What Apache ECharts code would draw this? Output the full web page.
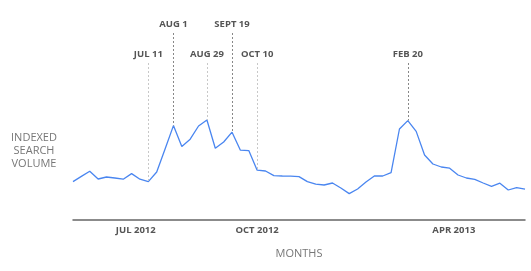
<!DOCTYPE html>
<html><head><meta charset="utf-8">
<script src="https://cdn.jsdelivr.net/npm/echarts@6/dist/echarts.min.js"></script>
<style>html,body{margin:0;padding:0;background:#fff}#c{width:531px;height:271px}</style>
</head><body><div id="c"></div>
<script>
// weekly indexed search volume
const values = [19.2,21.8,24.4,20.5,21.5,21,20.4,23.2,20.4,19.2,24,35.5,47.2,36.7,40.4,47,50,35.9,39,43.9,34.9,34.7,24.9,24.5,22.2,22,21.9,21.7,19.2,17.9,17.5,18.5,16,13.2,15.5,19,22,22,23.7,45.5,49.7,44.3,32.5,28,26.5,25.9,22.5,21,20.3,18.5,16.8,18.4,15,16.2,15.4];
const tickIdx = [7.5, 22, 45.5];
const tickLabels = ['JUL 2012', 'OCT 2012', 'APR 2013'];
const eventNames = ['JUL 11', 'AUG 1', 'AUG 29', 'SEPT 19', 'OCT 10', 'FEB 20'];
const eventIdx = [9, 12, 16, 19, 22, 40];
const eventHigh = [false, true, false, true, false, false];

const TOP_HIGH = 93.5, TOP_LOW = 78.5;
const data = values.map((v, i) => [i, v]);
const ml = eventNames.map((n, k) => {
  const i = eventIdx[k];
  const dark = eventHigh[k] || n === 'FEB 20';
  return [
    {coord: [i, eventHigh[k] ? TOP_HIGH : TOP_LOW], name: n,
     lineStyle: {color: dark ? '#888' : '#c8c8c8'}},
    {coord: [i, values[i]]}
  ];
});

const chart = echarts.init(document.getElementById('c'));
chart.setOption({
  animation: false,
  grid: {left: 73, right: 6, top: 20, bottom: 51},
  xAxis: {
    type: 'value', min: 0, max: values.length - 1, interval: 0.5,
    axisLine: {lineStyle: {color: '#666', width: 1.5}},
    axisTick: {show: false}, splitLine: {show: false},
    axisLabel: {
      margin: 5, color: '#555', fontFamily: 'Open Sans', fontWeight: 'bold', fontSize: 9.5,
      formatter: v => { const k = tickIdx.indexOf(v); return k >= 0 ? tickLabels[k] : ''; }
    },
    name: 'MONTHS', nameLocation: 'middle', nameGap: 28,
    nameTextStyle: {color: '#777', fontFamily: 'Open Sans', fontSize: 11}
  },
  yAxis: {type: 'value', min: 0, max: 100, show: false},
  graphic: [{
    type: 'text', x: 34, y: 131,
    style: {text: 'INDEXED\nSEARCH\nVOLUME', fill: '#777', font: '11px "Open Sans"', align: 'center', verticalAlign: 'top', lineHeight: 13}
  }],
  series: [{
    type: 'line', data: data, symbol: 'none',
    lineStyle: {color: '#4a86f0', width: 1.3},
    markLine: {
      silent: true, symbol: 'none',
      lineStyle: {type: [2, 2], width: 1},
      label: {show: true, position: 'start', formatter: '{b}', distance: 4,
        color: '#555', fontFamily: 'Open Sans', fontWeight: 'bold', fontSize: 9.5},
      data: ml
    }
  }]
});
</script></body></html>
